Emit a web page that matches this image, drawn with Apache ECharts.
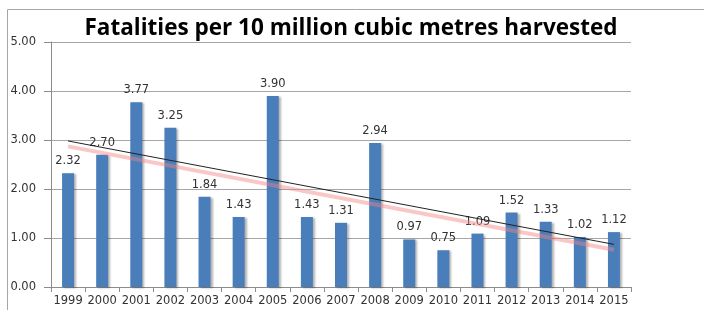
<!DOCTYPE html>
<html><head><meta charset="utf-8">
<script src="https://cdn.jsdelivr.net/npm/echarts@6/dist/echarts.min.js"></script>
<style>html,body{margin:0;padding:0;background:#fff}#c{width:704px;height:310px}</style>
</head><body><div id="c"></div>
<script>
const titleText = "Fatalities per 10 million cubic metres harvested";
const years = ["1999","2000","2001","2002","2003","2004","2005","2006","2007","2008","2009","2010","2011","2012","2013","2014","2015"];
const fatalities = [2.32,2.70,3.77,3.25,1.84,1.43,3.90,1.43,1.31,2.94,0.97,0.75,1.09,1.52,1.33,1.02,1.12];
// trend lines: [start value (1999), end value (2015)]
const trendBlack = [2.98, 0.87];
const trendPink = [2.87, 0.76];
const yTicks = [0, 1, 2, 3, 4, 5];

function ends(pair){ const a = years.map(()=>null); a[0]=pair[0]; a[a.length-1]=pair[1]; return a; }

const chart = echarts.init(document.getElementById('c'), null, {renderer:'canvas'});
chart.setOption({
  animation:false,
  backgroundColor:'#fff',
  title:{text:titleText,left:346,textAlign:'center',top:12,
    textStyle:{fontFamily:'Open Sans',fontWeight:'bold',fontSize:22.5,color:'#000'}},
  graphic:[{type:'polyline',shape:{points:[[7.5,320],[7.5,9.5],[710,9.5]]},style:{stroke:'#a6a6a6',lineWidth:1,fill:null},silent:true}],
  grid:{left:51,right:73,top:42,bottom:23},
  xAxis:{type:'category',data:years,
    axisLine:{lineStyle:{color:'#8c8c8c'}},
    axisTick:{show:true,length:5,lineStyle:{color:'#8c8c8c'}},
    axisLabel:{interval:0,margin:8,fontFamily:'DejaVu Sans',fontSize:11.5,color:'#333'}},
  yAxis:{type:'value',min:yTicks[0],max:yTicks[yTicks.length-1],interval:1,
    axisLine:{show:true,lineStyle:{color:'#8c8c8c'}},
    axisTick:{show:true,length:7,lineStyle:{color:'#8c8c8c'}},
    splitLine:{lineStyle:{color:'#a6a6a6'}},
    axisLabel:{margin:15,fontFamily:'DejaVu Sans',fontSize:11.5,color:'#333',formatter:v=>v.toFixed(2)}},
  series:[
    {type:'bar',data:fatalities,barWidth:12,
      itemStyle:{color:'#4a7ebb',shadowColor:'rgba(0,0,0,0.3)',shadowBlur:2,shadowOffsetX:2,shadowOffsetY:1},
      label:{show:true,position:'top',distance:6,fontFamily:'DejaVu Sans',fontSize:11.5,color:'#333',formatter:p=>p.value.toFixed(2)}},
    {type:'line',data:ends(trendPink),connectNulls:true,symbol:'none',
      lineStyle:{color:'rgba(245,130,130,0.45)',width:4},z:3},
    {type:'line',data:ends(trendBlack),connectNulls:true,symbol:'none',
      lineStyle:{color:'#222',width:1},z:4}
  ]
});
</script></body></html>
